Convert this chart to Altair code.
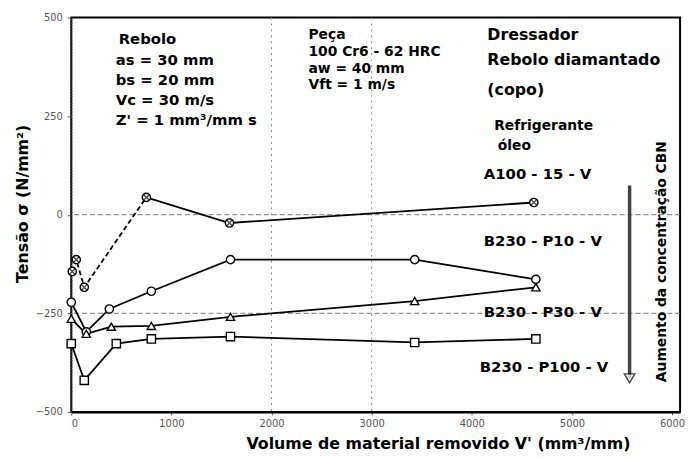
import altair as alt
import pandas as pd

# ---- series data ----
series_names = ["A100 - 15 - V", "B230 - P10 - V", "B230 - P30 - V", "B230 - P100 - V"]
a100_v = [10, 50, 130, 750, 1580, 4620]
a100_s = [-144, -114, -184, 44, -21, 31]
p10_v = [0, 150, 380, 800, 1590, 3430, 4640]
p10_s = [-222, -297, -239, -194, -114, -114, -164]
p30_v = [0, 150, 400, 800, 1590, 3430, 4640]
p30_s = [-264, -302, -284, -282, -259, -219, -184]
p100_v = [0, 130, 450, 800, 1590, 3430, 4640]
p100_s = [-327, -420, -327, -315, -309, -324, -315]

x_ticks = [0, 1000, 2000, 3000, 4000, 5000, 6000]
y_ticks = [-500, -250, 0, 250, 500]
grid_x = [2000, 3000]
grid_y = [0, -250]

# ---- annotations ----
ann_text = ["Rebolo", "as = 30 mm", "bs = 20 mm", "Vc = 30 m/s", "Z' = 1 mm³/mm s",
            "Peça", "100 Cr6 - 62 HRC", "aw = 40 mm", "Vft = 1 m/s",
            "Dressador", "Rebolo diamantado", "(copo)", "Refrigerante", "óleo",
            "A100 - 15 - V", "B230 - P10 - V", "B230 - P30 - V", "B230 - P100 - V"]
ann_v = [474, 444, 444, 444, 444,
         2369, 2369, 2369, 2369,
         4155, 4155, 4155, 4224, 4260,
         4120, 4120, 4120, 4080]
ann_s = [445, 392, 342, 291, 241,
         455, 412, 370, 330,
         455, 392, 317, 224, 174,
         104, -66, -247, -387]
ann_size = [15, 15, 15, 15, 15,
            14, 14, 14, 14,
            16, 16, 16, 14, 14,
            15, 15, 15, 15]

side_text = ["Aumento da concentração CBN"]
side_v = [5902]
side_s = [-119]
arrow_v = [5576]
arrow_top = [74]
arrow_bot = [-415]

rows = []
for name, vs, ss in zip(series_names, [a100_v, p10_v, p30_v, p100_v], [a100_s, p10_s, p30_s, p100_s]):
    for i, (v, s) in enumerate(zip(vs, ss)):
        rows.append({"series": name, "V": v, "S": s, "i": i})
df = pd.DataFrame(rows)

xs = alt.Scale(domain=[0, 6080], nice=False, zero=False)
ys = alt.Scale(domain=[-500, 500], nice=False, zero=False)

X = alt.X("V:Q", scale=xs, axis=alt.Axis(
    values=x_ticks, format="d", title="Volume de material removido V' (mm³/mm)", grid=False,
    labelFontSize=10, labelColor="#555", tickSize=3, labelPadding=4,
    titleFontSize=16, titleFont="DejaVu Sans", titleFontWeight="bold",
    titleX=371, titleY=32, titleAlign="center", titleBaseline="middle",
    domainColor="black", domainWidth=2.5, tickColor="#555"))
Y = alt.Y("S:Q", scale=ys, axis=alt.Axis(
    values=y_ticks, format="d", title="Tensão σ (N/mm²)", grid=False,
    labelFontSize=10, labelColor="#555", tickSize=4, labelPadding=5,
    titleFontSize=16, titleFont="DejaVu Sans", titleFontWeight="bold",
    titleX=-49, titleY=188, titleAlign="center", titleBaseline="middle", titleAngle=270,
    domainColor="#333", domainWidth=1.2, domainDash=[2, 1], tickColor="#555"))

base = alt.Chart(df)

gx = alt.Chart(pd.DataFrame({"V": grid_x})).mark_rule(
    color="#888", strokeDash=[2, 4], strokeWidth=1).encode(x=alt.X("V:Q", scale=xs))
gy = alt.Chart(pd.DataFrame({"S": grid_y})).mark_rule(
    color="#777", strokeDash=[5, 3], strokeWidth=1).encode(y=alt.Y("S:Q", scale=ys))

line_dash = base.transform_filter(
    (alt.datum.series == series_names[0]) & (alt.datum.V <= 750)
).mark_line(color="black", strokeWidth=1.8, strokeDash=[5, 3]).encode(
    x=X, y=Y, detail="series:N", order="i:Q")
line_solid = base.transform_filter(
    (alt.datum.series != series_names[0]) | (alt.datum.V >= 750)
).mark_line(color="black", strokeWidth=1.8).encode(
    x=X, y=Y, detail="series:N", order="i:Q")

shape_scale = alt.Scale(domain=series_names,
                        range=["circle", "circle", "triangle-up", "square"])
pts = base.mark_point(filled=True, fill="white", stroke="black", strokeWidth=1.4, size=70,
                      opacity=1).encode(
    x=X, y=Y, shape=alt.Shape("series:N", scale=shape_scale, legend=None))
cross = base.transform_filter(alt.datum.series == series_names[0]).mark_point(
    shape="M-0.7,-0.7L0.7,0.7M0.7,-0.7L-0.7,0.7", filled=False, stroke="black",
    strokeWidth=1.4, size=70).encode(x=X, y=Y)

ann_df = pd.DataFrame({"t": ann_text, "V": ann_v, "S": ann_s, "fs": ann_size})
ann = alt.Chart(ann_df).mark_text(align="left", baseline="middle", font="DejaVu Sans",
                                  fontWeight="bold", color="black").encode(
    x=alt.X("V:Q", scale=xs), y=alt.Y("S:Q", scale=ys), text="t:N",
    size=alt.Size("fs:Q", scale=None, legend=None))

side = alt.Chart(pd.DataFrame({"t": side_text, "V": side_v, "S": side_s})).mark_text(
    angle=270, align="center", baseline="middle", font="DejaVu Sans", fontWeight="bold",
    fontSize=14, color="black").encode(
    x=alt.X("V:Q", scale=xs), y=alt.Y("S:Q", scale=ys), text="t:N")

arrow_df = pd.DataFrame({"V": arrow_v, "top": arrow_top, "bot": arrow_bot})
arrow = alt.Chart(arrow_df).mark_rule(color="#444", strokeWidth=3.5).encode(
    x=alt.X("V:Q", scale=xs), y=alt.Y("top:Q", scale=ys), y2="bot:Q")
head = alt.Chart(arrow_df).mark_point(shape="triangle-down", filled=True, fill="white",
                                      stroke="black", strokeWidth=1.5, size=110).encode(
    x=alt.X("V:Q", scale=xs), y=alt.Y("bot:Q", scale=ys))

chart = alt.layer(gx, gy, line_dash, line_solid, pts, cross, ann, side, arrow, head).properties(
    width=616, height=399,
    autosize=alt.AutoSizeParams(type="none"),
    padding={"left": 64, "top": 7, "right": 5, "bottom": 44},
    background="white",
).configure_view(stroke="black", strokeWidth=2).configure_axis(
    labelFont="DejaVu Sans")

chart.save("out.html", embed_options={"renderer": "svg", "actions": False})
